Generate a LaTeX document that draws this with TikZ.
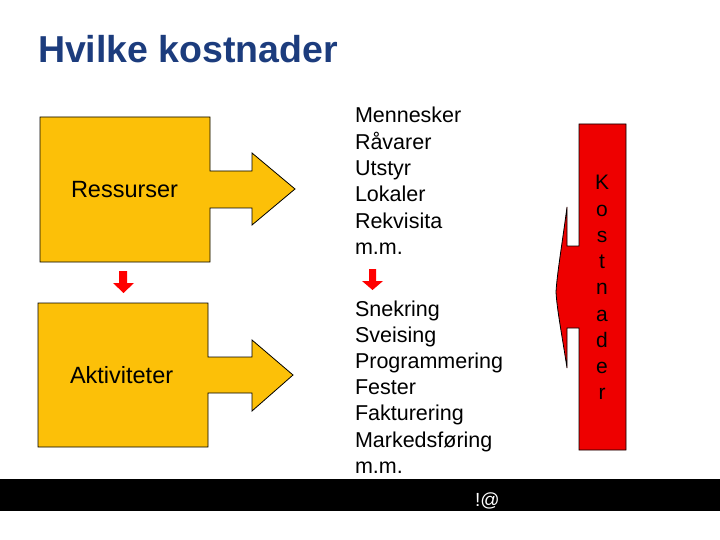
\documentclass[tikz,border=0pt]{standalone}
\usepackage{fontspec}
\setmainfont{Liberation Sans}
\definecolor{titleblue}{RGB}{28,60,125}
\definecolor{boxyellow}{RGB}{252,192,8}
\definecolor{costred}{RGB}{238,0,0}
\begin{document}
\begin{tikzpicture}[x=1pt,y=-1pt,
  every node/.style={inner sep=0pt,outer sep=0pt},
  bigshape/.style={fill=boxyellow,draw=black,line width=0.8pt,line join=miter},
  redshape/.style={fill=costred,draw=black,line width=0.8pt},
  smallarrow/.style={fill=red,draw=none},
  listtext/.style={font=\fontsize{21.5}{26}\selectfont,anchor=base west},
  labeltext/.style={font=\fontsize{23.5}{28}\selectfont,anchor=base west},
  costletter/.style={font=\fontsize{21}{26}\selectfont,anchor=base}]
\useasboundingbox (0,0) rectangle (720,540);

% title
\node[anchor=base west,text=titleblue,font=\bfseries\fontsize{37.5}{45}\selectfont] (title) at (38,63) {Hvilke kostnader};

% Ressurser box + arrow
\draw[bigshape] (40,117) -- (210,117) -- (210,171) -- (252,171) -- (252,153) -- (295,189)
  -- (252,225) -- (252,208) -- (210,208) -- (210,262) -- (40,262) -- cycle;
\node[labeltext] (ress) at (71,198) {Ressurser};

% Aktiviteter box + arrow
\draw[bigshape] (38,303) -- (208,303) -- (208,357) -- (252,357) -- (252,340) -- (293,375)
  -- (252,411) -- (252,393) -- (208,393) -- (208,447) -- (38,447) -- cycle;
\node[labeltext] (akt) at (70,383) {Aktiviteter};

% small red arrows
\fill[smallarrow] (119,271) -- (127,271) -- (127,283) -- (134,283) -- (123.5,293) -- (113,283) -- (119,283) -- cycle;
\fill[smallarrow] (369,269) -- (376,269) -- (376,281) -- (383,281) -- (372.5,290) -- (362,281) -- (369,281) -- cycle;

% lists
\foreach \t [count=\i from 0] in {Mennesker,Råvarer,Utstyr,Lokaler,Rekvisita,m.m.}
  \node[listtext] (r\i) at (355,{123+26.3*\i}) {\t};
\foreach \t [count=\i from 0] in {Snekring,Sveising,Programmering,Fester,Fakturering,Markedsføring,m.m.}
  \node[listtext] (a\i) at (355,{316+26.2*\i}) {\t};

% Kostnader arrow
\draw[redshape] (579,124) -- (626,124) -- (626,450) -- (579,450) -- (579,328) -- (567,328) -- (567,368)
  .. controls (562,335) and (557,310) .. (556,292)
  .. controls (557,274) and (562,245) .. (567,207) -- (567,246) -- (579,246) -- cycle;
\foreach \t [count=\i from 0] in {K,o,s,t,n,a,d,e,r}
  \node[costletter] (k\i) at (602,{190+26.2*\i}) {\t};

% bottom bar
\fill[black] (0,479) rectangle (720,511);
\node[anchor=base west,text=white,font=\fontsize{19}{22}\selectfont] (at) at (475,506) {!@};
\end{tikzpicture}
\end{document}
